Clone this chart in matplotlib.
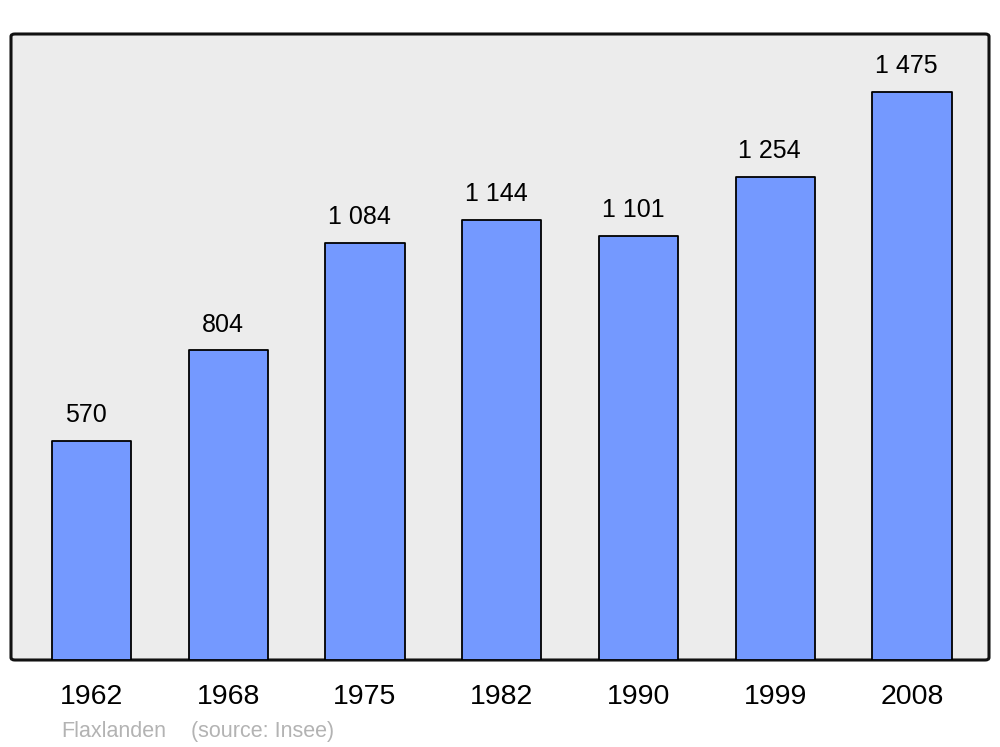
import matplotlib
matplotlib.use('Agg')
import matplotlib.pyplot as plt
from matplotlib.patches import FancyBboxPatch

years = ['1962', '1968', '1975', '1982', '1990', '1999', '2008']
population = [570, 804, 1084, 1144, 1101, 1254, 1475]
labels = ['570', '804', '1 084', '1 144', '1 101', '1 254', '1 475']
town = 'Flaxlanden'
source = '(source: Insee)'

plt.rcParams['font.family'] = ['Liberation Sans', 'DejaVu Sans']

fig = plt.figure(figsize=(10, 7.47), dpi=100)
ax = fig.add_axes([0.011, 87 / 747, 0.978, 626 / 747])
ax.set_facecolor('none')

# rounded frame with grey fill
frame = FancyBboxPatch((0, 0), 1, 1, boxstyle='round,pad=0,rounding_size=0.004',
                       transform=ax.transAxes, facecolor='#ececec',
                       edgecolor='#111111', linewidth=2.2, zorder=0, clip_on=False)
ax.add_patch(frame)

x = list(range(len(years)))
ax.bar(x, population, width=0.58, color='#7499ff', edgecolor='black',
       linewidth=1.3, joinstyle='round', zorder=2)

for xi, v, lab in zip(x, population, labels):
    ax.annotate(lab, (xi, v), xytext=(-4, 13.5), textcoords='offset points',
                ha='center', va='baseline', fontsize=18, color='black')

ax.set_xlim(-0.589, 6.563)
ax.set_ylim(0, 1626)
for s in ax.spines.values():
    s.set_visible(False)
ax.set_yticks([])
ax.set_xticks(x)
ax.set_xticklabels(years, fontsize=20.5)
ax.tick_params(axis='x', length=0, pad=17)

fig.text(0.061, 10 / 747, town, fontsize=15.5, color='#b3b3b3', ha='left', va='baseline')
fig.text(0.191, 10 / 747, source, fontsize=15.5, color='#b3b3b3', ha='left', va='baseline')

fig.savefig('out.png', dpi=100)
